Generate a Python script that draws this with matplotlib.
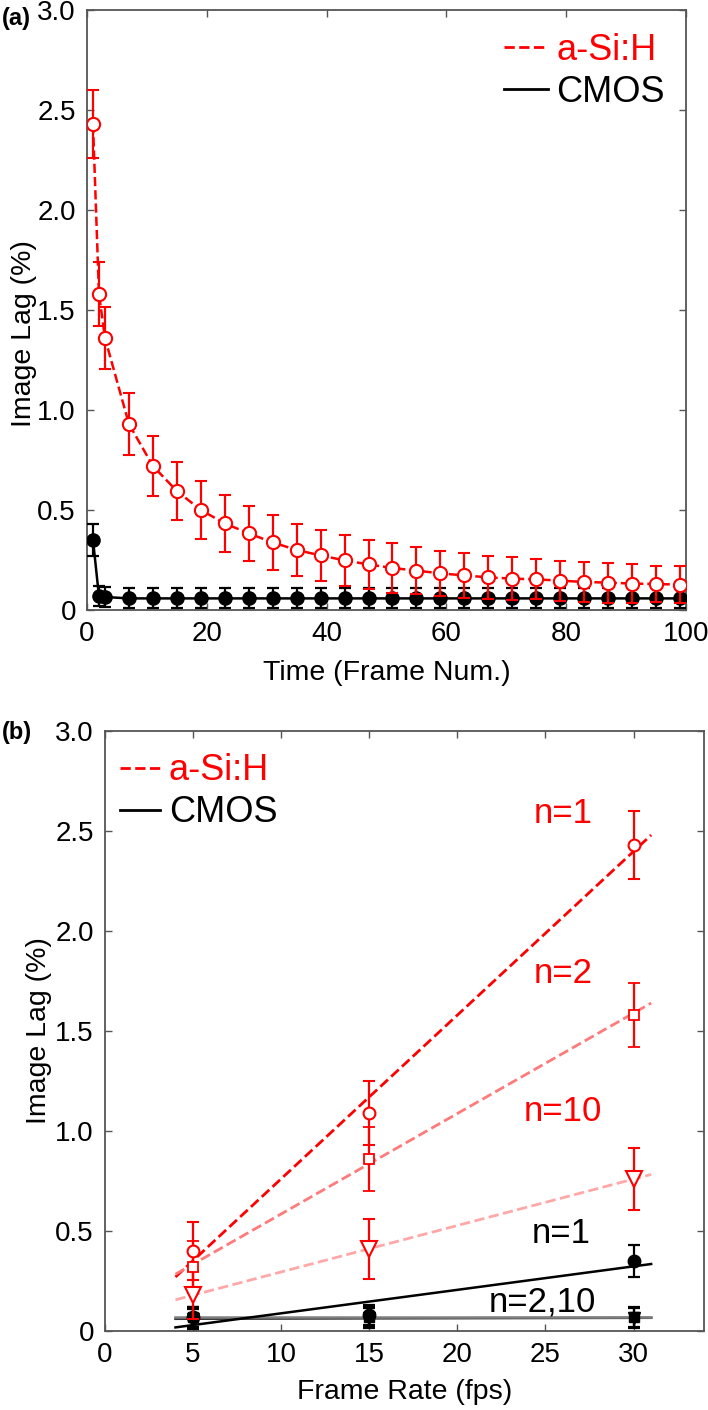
import numpy as np
import matplotlib
matplotlib.use('Agg')
import matplotlib.pyplot as plt
from matplotlib.lines import Line2D

plt.rcParams['font.family'] = ['Liberation Sans', 'DejaVu Sans']

# (a) image lag vs frame number
frames = [1, 2, 3, 7, 11, 15, 19, 23, 27, 31, 35, 39, 43, 47, 51, 55,
          59, 63, 67, 71, 75, 79, 83, 87, 91, 95, 99]
asi_lag = [2.43, 1.58, 1.36, 0.93, 0.72, 0.595, 0.50, 0.433, 0.383, 0.338,
           0.30, 0.273, 0.248, 0.228, 0.21, 0.197, 0.183, 0.173, 0.163,
           0.157, 0.153, 0.147, 0.14, 0.137, 0.132, 0.13, 0.127]
asi_err = [0.17, 0.16, 0.155, 0.155, 0.15, 0.145, 0.145, 0.142, 0.137, 0.137,
           0.13, 0.127, 0.129, 0.122, 0.123, 0.116, 0.114, 0.114, 0.109,
           0.106, 0.10, 0.10, 0.102, 0.10, 0.096, 0.092, 0.093]
cmos_lag = [0.35, 0.068, 0.065, 0.058, 0.058, 0.058, 0.058, 0.058, 0.058,
            0.058, 0.058, 0.058, 0.058, 0.058, 0.058, 0.058, 0.058, 0.058,
            0.058, 0.058, 0.058, 0.058, 0.058, 0.058, 0.058, 0.058, 0.058]
cmos_err = [0.08, 0.05, 0.05, 0.05, 0.05, 0.05, 0.05, 0.05, 0.05, 0.05,
            0.05, 0.05, 0.05, 0.05, 0.05, 0.05, 0.05, 0.05, 0.05, 0.05,
            0.05, 0.05, 0.05, 0.05, 0.05, 0.05, 0.05]

# (b) image lag vs frame rate
fps = [5, 15, 30]
asi_n1 = [0.40, 1.09, 2.43]
asi_n1_err = [0.145, 0.16, 0.17]
asi_n2 = [0.32, 0.86, 1.58]
asi_n2_err = [0.13, 0.16, 0.16]
asi_n10 = [0.18, 0.41, 0.76]
asi_n10_err = [0.12, 0.15, 0.155]
cmos_n1 = [0.07, 0.08, 0.35]
cmos_n1_err = [0.05, 0.05, 0.08]
cmos_n2 = [0.07, 0.07, 0.07]
cmos_n2_err = [0.05, 0.05, 0.05]
cmos_n10 = [0.06, 0.065, 0.065]
cmos_n10_err = [0.05, 0.05, 0.05]

yticks = [0, 0.5, 1.0, 1.5, 2.0, 2.5, 3.0]
ytick_labels = ['0', '0.5', '1.0', '1.5', '2.0', '2.5', '3.0']

RED = '#ff0000'
FS = 20

fig = plt.figure(figsize=(7.08, 14.1), dpi=100)
ax1 = fig.add_axes([87/708, 1 - 610/1410, 599/708, 600/1410])
ax2 = fig.add_axes([105/708, 1 - 1331/1410, 599/708, 600/1410])


def style(ax):
    for s in ax.spines.values():
        s.set_color('#555555')
        s.set_linewidth(1.3)
    ax.tick_params(direction='in', top=True, right=True, length=5, width=1,
                   color='#555555', labelsize=FS, pad=8)
    ax.set_ylim(0, 3.0)
    ax.set_yticks(yticks)
    ax.set_yticklabels(ytick_labels)
    ax.set_ylabel('Image Lag (%)', fontsize=20.5)


# ---- panel (a)
ax1.errorbar(frames, cmos_lag, yerr=cmos_err, color='black', ls='-', lw=1.8,
             marker='o', ms=9.5, mfc='black', mec='black', capsize=4,
             elinewidth=1.6, capthick=1.6, zorder=3)
ax1.errorbar(frames, asi_lag, yerr=asi_err, color=RED, ls='--', lw=1.8,
             marker='o', ms=9.5, mfc='white', mec=RED, mew=1.5, capsize=4,
             elinewidth=1.6, capthick=1.6, zorder=4)
ax1.set_xlim(0, 100)
ax1.set_xticks([0, 20, 40, 60, 80, 100])
style(ax1)
ax1.set_xlabel('Time (Frame Num.)', fontsize=20.5, labelpad=9)
ax1.yaxis.set_label_coords(-0.083, 0.46)

h = [Line2D([], [], color=RED, ls='--', lw=2),
     Line2D([], [], color='black', ls='-', lw=2)]
leg = ax1.legend(h, ['a-Si:H', 'CMOS'], loc='upper right',
                 bbox_to_anchor=(0.965, 0.962), frameon=False, fontsize=26,
                 handlelength=1.2, handletextpad=0.25, labelspacing=0.2,
                 borderpad=0, borderaxespad=0)
for t, c in zip(leg.get_texts(), [RED, 'black']):
    t.set_color(c)

# ---- panel (b)
fit_x = np.array([4, 31])
ebkw = dict(ls='none', capsize=4, elinewidth=1.6, capthick=1.6)

for vals, col in [(cmos_n10, '#333333'), (cmos_n2, '#808080'),
                  (cmos_n1, 'black')]:
    p = np.polyfit(fps, vals, 1)
    ax2.plot(fit_x, np.polyval(p, fit_x), color=col, ls='-', lw=1.8, zorder=2)

ax2.errorbar(fps, cmos_n10, yerr=cmos_n10_err, color='black', marker='v',
             ms=9, mfc='black', mec='black', zorder=3, **ebkw)
ax2.errorbar(fps, cmos_n2, yerr=cmos_n2_err, color='black', marker='s',
             ms=7, mfc='black', mec='black', zorder=3, **ebkw)
ax2.errorbar(fps, cmos_n1, yerr=cmos_n1_err, color='black', marker='o',
             ms=9, mfc='black', mec='black', zorder=3, **ebkw)

for vals, col in [(asi_n1, RED), (asi_n2, '#ff7a7a'), (asi_n10, '#ffa8a8')]:
    p = np.polyfit(fps, vals, 1)
    ax2.plot(fit_x, np.polyval(p, fit_x), color=col, ls='--', lw=2, zorder=2)

ax2.errorbar(fps, asi_n1, yerr=asi_n1_err, color=RED, marker='o', ms=8.5,
             mfc='white', mec=RED, mew=1.5, zorder=4, **ebkw)
ax2.errorbar(fps, asi_n2, yerr=asi_n2_err, color=RED, marker='s', ms=6.5,
             mfc='white', mec=RED, mew=1.3, zorder=4, **ebkw)
ax2.errorbar(fps, asi_n10, yerr=asi_n10_err, color=RED, marker='v', ms=11,
             mfc='white', mec=RED, mew=1.5, zorder=4, **ebkw)

ax2.set_xlim(0, 34)
ax2.set_xticks([0, 5, 10, 15, 20, 25, 30])
style(ax2)
ax2.set_xlabel('Frame Rate (fps)', fontsize=20.5, labelpad=8)
ax2.yaxis.set_label_coords(-0.088, 0.5)

leg2 = ax2.legend(h, ['a-Si:H', 'CMOS'], loc='upper left',
                  bbox_to_anchor=(0.025, 0.963), frameon=False, fontsize=26,
                  handlelength=1.1, handletextpad=0.25, labelspacing=0.2,
                  borderpad=0, borderaxespad=0)
for t, c in zip(leg2.get_texts(), [RED, 'black']):
    t.set_color(c)

ax2.text(26.0, 2.54, 'n=1', color=RED, fontsize=25, ha='center', va='baseline')
ax2.text(26.0, 1.74, 'n=2', color=RED, fontsize=25, ha='center', va='baseline')
ax2.text(26.0, 1.05, 'n=10', color=RED, fontsize=25, ha='center', va='baseline')
ax2.text(25.9, 0.44, 'n=1', color='black', fontsize=25, ha='center', va='baseline')
ax2.text(24.8, 0.097, 'n=2,10', color='black', fontsize=25, ha='center', va='baseline')

fig.text(0.002, 1 - 18/1410, '(a)', fontsize=17, fontweight='bold', va='center')
fig.text(0.002, 1 - 733/1410, '(b)', fontsize=17, fontweight='bold', va='center')

fig.savefig('out.png', dpi=100)
